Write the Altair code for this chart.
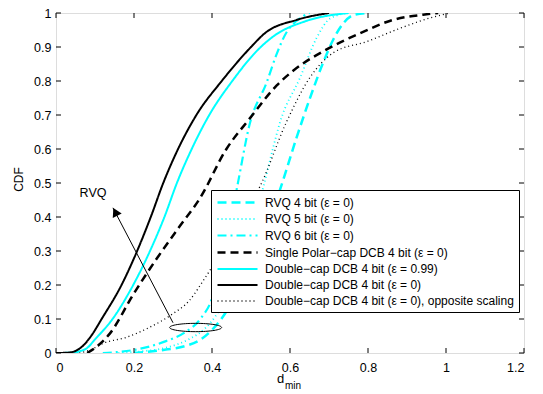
import altair as alt
import pandas as pd

FONT = "Liberation Sans"

names = [
    "RVQ 4 bit (ε = 0)",
    "RVQ 5 bit (ε = 0)",
    "RVQ 6 bit (ε = 0)",
    "Single Polar−cap DCB 4 bit (ε = 0)",
    "Double−cap DCB 4 bit (ε = 0.99)",
    "Double−cap DCB 4 bit (ε = 0)",
    "Double−cap DCB 4 bit (ε = 0), opposite scaling",
]
colors = ["#00ffff", "#00ffff", "#00ffff", "#000000", "#00ffff", "#000000", "#000000"]
dashes = [[9, 5], [1, 3], [9, 4, 2, 4], [8, 5], [1, 0], [1, 0], [1, 3]]
widths = [2.5, 1.8, 2.2, 2.5, 2, 2, 1.3]

# RVQ 4 bit (dashed cyan)
rvq4_x = [0.2, 0.282, 0.33, 0.367, 0.40, 0.427, 0.46, 0.5, 0.54, 0.574, 0.617, 0.651, 0.685, 0.711, 0.737, 0.763, 0.8]
rvq4_y = [0.0, 0.01, 0.02, 0.037, 0.068, 0.105, 0.17, 0.27, 0.37, 0.479, 0.634, 0.749, 0.854, 0.922, 0.97, 0.994, 1.0]
# RVQ 5 bit (dotted cyan)
rvq5_x = [0.16, 0.22, 0.28, 0.34, 0.38, 0.41, 0.45, 0.49, 0.532, 0.557, 0.574, 0.626, 0.668, 0.703, 0.75]
rvq5_y = [0.0, 0.005, 0.015, 0.04, 0.07, 0.11, 0.2, 0.33, 0.49, 0.605, 0.677, 0.81, 0.926, 0.984, 1.0]
# RVQ 6 bit (dash-dot cyan)
rvq6_x = [0.12, 0.16, 0.205, 0.282, 0.33, 0.37, 0.40, 0.43, 0.463, 0.497, 0.54, 0.566, 0.592, 0.615, 0.65]
rvq6_y = [0.0, 0.003, 0.01, 0.035, 0.06, 0.1, 0.16, 0.3, 0.48, 0.675, 0.795, 0.88, 0.945, 0.975, 1.0]
# Single Polar-cap (dashed black)
spc_x = [0.08, 0.1, 0.138, 0.198, 0.258, 0.318, 0.369, 0.437, 0.497, 0.566, 0.608, 0.694, 0.779, 0.865, 0.941, 0.98]
spc_y = [0.0, 0.015, 0.057, 0.172, 0.277, 0.374, 0.455, 0.6, 0.69, 0.787, 0.83, 0.893, 0.94, 0.98, 0.995, 1.0]
# Double-cap eps=0.99 (solid cyan)
dc99_x = [0.0, 0.04, 0.06, 0.08, 0.1, 0.145, 0.198, 0.241, 0.278, 0.31, 0.348, 0.393, 0.452, 0.525, 0.557, 0.643, 0.75]
dc99_y = [0.0, 0.001, 0.005, 0.015, 0.04, 0.1, 0.2, 0.3, 0.4, 0.5, 0.6, 0.7, 0.8, 0.9, 0.931, 0.977, 1.0]
# Double-cap eps=0 (solid black)
dc0_x = [0.0, 0.03, 0.05, 0.068, 0.09, 0.117, 0.168, 0.208, 0.243, 0.275, 0.313, 0.36, 0.425, 0.50, 0.535, 0.618, 0.70]
dc0_y = [0.0, 0.001, 0.006, 0.02, 0.05, 0.1, 0.2, 0.3, 0.4, 0.5, 0.6, 0.7, 0.8, 0.9, 0.94, 0.98, 1.0]
# Double-cap eps=0 opposite scaling (dotted black)
dco_x = [0.06, 0.09, 0.12, 0.18, 0.239, 0.299, 0.341, 0.376, 0.393, 0.43, 0.47, 0.523, 0.59, 0.651, 0.711, 0.797, 0.882, 0.967, 1.01]
dco_y = [0.0, 0.01, 0.028, 0.046, 0.075, 0.115, 0.153, 0.21, 0.24, 0.31, 0.39, 0.49, 0.677, 0.81, 0.883, 0.916, 0.955, 0.988, 1.0]

series_x = [rvq4_x, rvq5_x, rvq6_x, spc_x, dc99_x, dc0_x, dco_x]
series_y = [rvq4_y, rvq5_y, rvq6_y, spc_y, dc99_y, dc0_y, dco_y]

xticks = [0, 0.2, 0.4, 0.6, 0.8, 1, 1.2]
yticks = [0, 0.1, 0.2, 0.3, 0.4, 0.5, 0.6, 0.7, 0.8, 0.9, 1]

# annotation (arrow and ellipse) in data coordinates
arrow_tail = [0.30, 0.089]
arrow_head = [0.146, 0.427]
ellipse_c = [0.358, 0.075]
rvq_label = [0.095, 0.47]

rows = []
for i, (n, xs, ys) in enumerate(zip(names, series_x, series_y)):
    for j, (a, b) in enumerate(zip(xs, ys)):
        rows.append({"series": n, "x": a, "y": b, "j": j})
df = pd.DataFrame(rows)

TOP = 5
W, H = 468, 340
xscale = alt.Scale(domain=[0, 1.2], nice=False, zero=False)
yscale = alt.Scale(domain=[0, 1], nice=False, zero=False)
xaxis = alt.Axis(values=xticks, format="~g", ticks=False, domain=False, grid=False,
                 labelFont=FONT, labelFontSize=12.5, labelColor="black", labelPadding=8, title=None)
yaxis = alt.Axis(values=yticks, format="~g", ticks=False, domain=False, grid=False,
                 labelFont=FONT, labelFontSize=12.5, labelColor="black", labelPadding=5, title="CDF",
                 titleFont=FONT, titleFontSize=12, titleFontWeight="normal", titleColor="black",
                 titleX=-31, titleY=166)
X = alt.X("x:Q", scale=xscale, axis=xaxis)
Y = alt.Y("y:Q", scale=yscale, axis=yaxis)

leg = dict(
    title=None, orient="none", legendX=155, legendY=177,
    strokeColor="black", fillColor="white", padding=5,
    symbolType="M-1,0H5.67", symbolSize=144, labelFont=FONT, labelFontSize=12,
    labelColor="black", labelLimit=0, rowPadding=3, labelOffset=34,
)

lines = alt.Chart(df).mark_line(interpolate="monotone", clip=True).encode(
    x=X, y=Y,
    color=alt.Color("series:N", scale=alt.Scale(domain=names, range=colors), legend=alt.Legend(**leg)),
    strokeDash=alt.StrokeDash("series:N", scale=alt.Scale(domain=names, range=dashes), legend=alt.Legend(**leg)),
    strokeWidth=alt.StrokeWidth("series:N", scale=alt.Scale(type="ordinal", domain=names, range=widths),
                                legend=alt.Legend(**leg)),
    order=alt.Order("j:Q"),
)

xt = pd.DataFrame({"x": xticks})
yt = pd.DataFrame({"y": yticks})
tb = alt.Chart(xt).mark_rule(color="black", strokeWidth=1).encode(x=X, y=alt.value(H), y2=alt.value(H - 5))
tt = alt.Chart(xt).mark_rule(color="black", strokeWidth=1).encode(x=X, y=alt.value(0), y2=alt.value(5))
tl = alt.Chart(yt).mark_rule(color="black", strokeWidth=1).encode(y=Y, x=alt.value(0), x2=alt.value(5))
tr = alt.Chart(yt).mark_rule(color="black", strokeWidth=1).encode(y=Y, x=alt.value(W), x2=alt.value(W - 5))

arr_df = pd.DataFrame({"x": [arrow_tail[0]], "y": [arrow_tail[1]], "x2": [arrow_head[0]], "y2": [arrow_head[1]]})
arrow = alt.Chart(arr_df).mark_rule(color="black", strokeWidth=1).encode(x=X, y=Y, x2="x2:Q", y2="y2:Q")
head_df = pd.DataFrame({"x": [arrow_head[0] + 0.006], "y": [arrow_head[1] - 0.012]})
head = alt.Chart(head_df).mark_point(shape="triangle-up", filled=True, color="black", size=100, angle=333,
                                     opacity=1).encode(x=X, y=Y)
ell_df = pd.DataFrame({"x": [ellipse_c[0]], "y": [ellipse_c[1]]})
ellipse = alt.Chart(ell_df).mark_point(shape="M-1,0A1,0.16 0 1,0 1,0A1,0.16 0 1,0 -1,0", filled=False,
                                       color="black", size=2704, strokeWidth=1, opacity=1).encode(x=X, y=Y)
lab_df = pd.DataFrame({"x": [rvq_label[0]], "y": [rvq_label[1]], "t": ["RVQ"]})
rvq = alt.Chart(lab_df).mark_text(font=FONT, fontSize=12.5, color="black").encode(x=X, y=Y, text="t:N")

d_df = pd.DataFrame({"t": ["d"]})
dtext = alt.Chart(d_df).mark_text(font=FONT, fontSize=13, color="black", align="center",
                                  baseline="alphabetic").encode(x=alt.value(224.5), y=alt.value(369.5), text="t:N")
m_df = pd.DataFrame({"t": ["min"]})
mtext = alt.Chart(m_df).mark_text(font=FONT, fontSize=10, color="black", align="left",
                                  baseline="alphabetic").encode(x=alt.value(229), y=alt.value(376), text="t:N")

chart = alt.layer(lines, tb, tt, tl, tr, arrow, head, ellipse, rvq, dtext, mtext).properties(
    width=W, height=H,
    padding={"left": 48, "top": TOP, "right": 10, "bottom": 40},
    autosize=alt.AutoSizeParams(type="none"),
).configure_view(stroke="black", strokeWidth=1).configure(background="white")

chart.save("out.html", embed_options={"renderer": "svg", "actions": False})
